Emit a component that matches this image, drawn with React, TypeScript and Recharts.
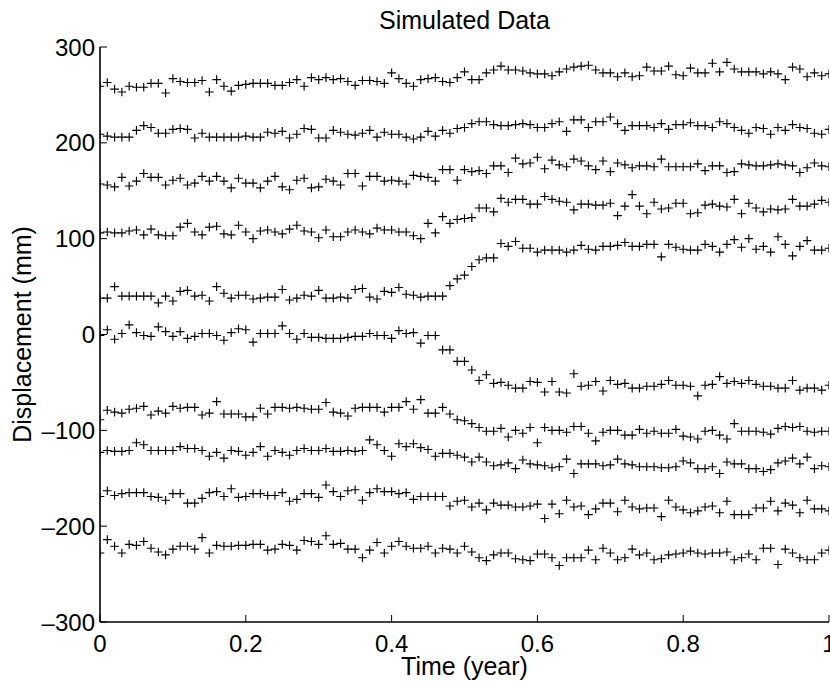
import React from 'react';
import { ScatterChart, Scatter, XAxis, YAxis, Label } from 'recharts';

const times = [0, 0.01, 0.02, 0.03, 0.04, 0.05, 0.06, 0.07, 0.08, 0.09, 0.1, 0.11, 0.12, 0.13, 0.14, 0.15, 0.16, 0.17, 0.18, 0.19, 0.2, 0.21, 0.22, 0.23, 0.24, 0.25, 0.26, 0.27, 0.28, 0.29, 0.3, 0.31, 0.32, 0.33, 0.34, 0.35, 0.36, 0.37, 0.38, 0.39, 0.4, 0.41, 0.42, 0.43, 0.44, 0.45, 0.46, 0.47, 0.48, 0.49, 0.5, 0.51, 0.52, 0.53, 0.54, 0.55, 0.56, 0.57, 0.58, 0.59, 0.6, 0.61, 0.62, 0.63, 0.64, 0.65, 0.66, 0.67, 0.68, 0.69, 0.7, 0.71, 0.72, 0.73, 0.74, 0.75, 0.76, 0.77, 0.78, 0.79, 0.8, 0.81, 0.82, 0.83, 0.84, 0.85, 0.86, 0.87, 0.88, 0.89, 0.9, 0.91, 0.92, 0.93, 0.94, 0.95, 0.96, 0.97, 0.98, 0.99, 1];

const s1 = [259, 263, 256, 253, 259, 258, 258, 262, 262, 252, 267, 264, 263, 263, 265, 253, 266, 259, 254, 260, 261, 262, 262, 262, 260, 260, 263, 266, 259, 268, 266, 268, 266,
  267, 264, 260, 265, 265, 264, 262, 273, 267, 262, 259, 266, 267, 268, 264, 263, 268, 274, 266, 266, 273, 276, 280, 276, 276, 275, 273, 272, 272, 270, 274, 277, 279,
  280, 281, 276, 273, 273, 269, 273, 269, 270, 279, 275, 275, 280, 271, 270, 278, 273, 273, 283, 274, 284, 277, 274, 274, 274, 272, 274, 272, 266, 279, 277, 269, 273, 270, 272];
const s2 = [209, 207, 206, 206, 206, 213, 218, 216, 210, 210, 214, 215, 214, 205, 210, 206, 206, 206, 206, 206, 207, 206, 206, 211, 210, 212, 205, 209, 215, 214, 205, 205, 213,
  211, 209, 208, 210, 213, 206, 211, 209, 209, 206, 204, 206, 212, 207, 213, 210, 215, 216, 220, 222, 222, 219, 218, 218, 219, 220, 219, 216, 216, 220, 222, 212, 224,
  224, 216, 222, 222, 227, 220, 213, 218, 218, 218, 216, 220, 214, 219, 219, 221, 218, 218, 216, 222, 220, 216, 213, 210, 216, 215, 209, 216, 213, 219, 216, 215, 210, 209, 214];
const s3 = [157, 156, 154, 164, 155, 160, 168, 164, 164, 156, 161, 163, 156, 158, 165, 160, 165, 160, 153, 163, 158, 158, 153, 160, 165, 154, 151, 161, 163, 153, 154, 162, 160,
  156, 168, 168, 155, 165, 165, 160, 161, 160, 157, 166, 165, 164, 160, 172, 172, 161, 172, 170, 171, 168, 176, 176, 169, 184, 178, 179, 185, 173, 182, 177, 175, 183,
  181, 176, 172, 181, 170, 179, 177, 174, 176, 176, 175, 183, 175, 175, 175, 175, 178, 171, 176, 176, 169, 170, 178, 177, 176, 176, 177, 178, 177, 176, 169, 174, 179, 176, 175];
const s4 = [106, 107, 106, 106, 108, 109, 104, 110, 104, 103, 103, 112, 116, 107, 104, 112, 113, 105, 104, 114, 107, 100, 108, 109, 107, 105, 110, 114, 108, 107, 101, 109, 102,
  102, 107, 109, 107, 105, 111, 109, 109, 107, 107, 103, 100, 116, 106, 123, 116, 120, 121, 122, 132, 132, 128, 142, 138, 141, 141, 136, 136, 144, 141, 139, 138, 130,
  136, 136, 135, 135, 137, 124, 134, 146, 134, 126, 138, 131, 132, 137, 137, 126, 127, 135, 136, 134, 133, 141, 126, 137, 132, 128, 131, 130, 131, 141, 134, 134, 136, 140, 138];
const s5 = [38, 38, 50, 40, 40, 40, 40, 40, 33, 40, 35, 45, 46, 40, 41, 35, 50, 43, 38, 41, 41, 37, 38, 39, 39, 47, 36, 38, 41, 40, 46, 38, 38,
  39, 38, 47, 48, 39, 37, 45, 44, 49, 42, 41, 39, 40, 40, 40, 51, 58, 62, 71, 78, 80, 80, 95, 92, 97, 90, 90, 86, 88, 88, 88, 86, 88,
  93, 89, 88, 92, 92, 93, 96, 92, 92, 94, 94, 81, 94, 91, 89, 88, 88, 94, 92, 86, 94, 99, 91, 100, 89, 92, 86, 102, 94, 82, 92, 98, 88, 88, 90];
const s6 = [-1, 5, -5, 1, 10, 2, -1, -2, 8, 3, -2, 3, -4, -2, 1, 1, -1, -6, 2, 6, 5, -8, 1, 1, 1, 9, 1, -5, 1, -3, -3, -4, -4,
  -4, -3, -2, -2, 1, -1, -1, -4, 4, 1, 2, -9, -1, -1, -16, -16, -28, -28, -37, -48, -42, -51, -50, -53, -56, -56, -49, -50, -60, -49, -60, -61, -41,
  -54, -53, -49, -59, -48, -52, -51, -56, -56, -54, -54, -52, -48, -53, -53, -54, -64, -53, -52, -44, -51, -49, -51, -48, -52, -54, -54, -56, -56, -48, -58, -56, -56, -58, -53];
const s7 = [-89, -79, -81, -82, -78, -77, -75, -84, -80, -82, -75, -77, -76, -76, -84, -82, -70, -83, -83, -83, -86, -86, -77, -83, -76, -76, -77, -76, -77, -78, -78, -71, -81,
  -82, -85, -77, -76, -76, -76, -81, -76, -76, -70, -78, -68, -82, -82, -76, -83, -89, -90, -93, -97, -101, -101, -98, -107, -100, -103, -97, -113, -97, -100, -100, -102, -96,
  -96, -103, -111, -102, -100, -100, -105, -105, -99, -103, -101, -103, -103, -99, -106, -107, -109, -101, -100, -105, -109, -93, -101, -101, -101, -102, -104, -98, -96, -97, -96, -101, -102, -101, -101];
const s8 = [-123, -121, -122, -122, -121, -113, -115, -121, -121, -121, -121, -117, -119, -119, -121, -127, -123, -129, -121, -122, -126, -123, -117, -127, -121, -123, -126, -121, -119, -121, -121, -119, -122,
  -122, -121, -122, -121, -110, -115, -121, -127, -114, -117, -114, -118, -120, -127, -124, -124, -126, -128, -133, -128, -133, -137, -136, -134, -140, -131, -135, -136, -137, -139, -138, -130, -145,
  -135, -135, -135, -137, -136, -130, -135, -136, -138, -138, -138, -139, -139, -138, -132, -134, -140, -140, -138, -145, -133, -135, -135, -140, -140, -143, -141, -134, -132, -129, -135, -128, -140, -137, -138];
const s9 = [-169, -163, -168, -166, -165, -165, -165, -169, -170, -173, -166, -166, -176, -176, -171, -165, -164, -169, -161, -170, -169, -166, -166, -168, -168, -165, -174, -172, -166, -166, -170, -157, -164,
  -169, -163, -162, -173, -165, -161, -164, -164, -166, -165, -172, -169, -169, -169, -169, -179, -174, -173, -180, -176, -183, -176, -178, -178, -180, -180, -179, -177, -192, -177, -187, -173, -180,
  -179, -188, -182, -176, -176, -185, -173, -180, -182, -181, -181, -190, -173, -180, -183, -186, -184, -180, -179, -186, -174, -188, -188, -188, -181, -181, -174, -184, -176, -178, -186, -173, -182, -182, -184];
const s10 = [-228, -214, -221, -228, -219, -220, -216, -223, -227, -230, -224, -221, -221, -224, -212, -228, -220, -221, -221, -220, -220, -219, -219, -225, -224, -219, -220, -225, -215, -216, -219, -210, -219,
  -218, -224, -224, -233, -225, -217, -228, -221, -216, -221, -223, -223, -221, -228, -223, -224, -228, -221, -227, -233, -236, -230, -228, -228, -234, -235, -236, -229, -229, -233, -241, -233, -233,
  -233, -225, -235, -223, -228, -235, -233, -224, -230, -228, -235, -234, -230, -229, -228, -226, -228, -229, -228, -228, -227, -235, -233, -229, -235, -223, -223, -240, -224, -228, -233, -235, -235, -228, -225];

const seriesList = [s1, s2, s3, s4, s5, s6, s7, s8, s9, s10];
const xTicks = [0, 0.2, 0.4, 0.6, 0.8, 1];
const yTicks = [-300, -200, -100, 0, 100, 200, 300];
const xTickLabels = ['0', '0.2', '0.4', '0.6', '0.8', '1'];
const yTickLabels = ['\u2013300', '\u2013200', '\u2013100', '0', '100', '200', '300'];

const FONT = '"Liberation Sans", Arial, Helvetica, sans-serif';
const TICK_FS = 24;
const LABEL_FS = 25;
const TICK_LEN = 7;

const Plus = (props: any) => {
  const { cx, cy } = props;
  if (cx == null || cy == null) return null;
  const h = 4.3;
  return (
    <path
      d={`M${cx - h},${cy}H${cx + h}M${cx},${cy - h}V${cy + h}`}
      stroke="#000"
      strokeWidth={1.15}
      fill="none"
    />
  );
};

const BottomTick = (props: any) => {
  const { x, y, payload } = props;
  const idx = xTicks.indexOf(payload.value);
  return (
    <g>
      <line x1={x} y1={y} x2={x} y2={y - TICK_LEN} stroke="#000" strokeWidth={1} />
      <text x={x} y={y + 30} textAnchor="middle" fontSize={TICK_FS} fontFamily={FONT} fill="#000">
        {idx >= 0 ? xTickLabels[idx] : String(payload.value)}
      </text>
    </g>
  );
};

const TopTick = (props: any) => {
  const { x, y } = props;
  return <line x1={x} y1={y} x2={x} y2={y + TICK_LEN} stroke="#000" strokeWidth={1} />;
};

const LeftTick = (props: any) => {
  const { x, y, payload } = props;
  const idx = yTicks.indexOf(payload.value);
  return (
    <g>
      <line x1={x} y1={y} x2={x + TICK_LEN} y2={y} stroke="#000" strokeWidth={1} />
      <text x={x - 5} y={y} dy="0.36em" textAnchor="end" fontSize={TICK_FS} fontFamily={FONT} fill="#000">
        {idx >= 0 ? yTickLabels[idx] : String(payload.value)}
      </text>
    </g>
  );
};

const RightTick = (props: any) => {
  const { x, y } = props;
  return <line x1={x} y1={y} x2={x - TICK_LEN} y2={y} stroke="#000" strokeWidth={1} />;
};

const YLabelContent = (props: any) => {
  const vb = props.viewBox || {};
  const cx = (vb.x || 0) + 31;
  const cy = (vb.y || 0) + (vb.height || 0) / 2;
  return (
    <text
      x={cx}
      y={cy}
      transform={`rotate(-90, ${cx}, ${cy})`}
      textAnchor="middle"
      fontSize={LABEL_FS}
      fontFamily={FONT}
      fill="#000"
    >
      Displacement (mm)
    </text>
  );
};

const XLabelContent = (props: any) => {
  const vb = props.viewBox || {};
  const cx = (vb.x || 0) + (vb.width || 0) / 2;
  const cy = (vb.y || 0) + 53;
  return (
    <text x={cx} y={cy} textAnchor="middle" fontSize={LABEL_FS} fontFamily={FONT} fill="#000">
      Time (year)
    </text>
  );
};

export default function App() {
  const datasets = seriesList.map((s) =>
    times.map((t, i) => ({ x: t, y: s[i] })).filter((d) => d.y !== undefined)
  );
  const axisLine = { stroke: '#000', strokeWidth: 1.6 };
  return (
    <div style={{ position: 'absolute', left: 0, top: 0, width: 830, height: 685, background: '#fff' }}>
      <svg width={830} height={40} style={{ position: 'absolute', left: 0, top: 0 }}>
        <text x={464.5} y={29} textAnchor="middle" fontSize={LABEL_FS} fontFamily={FONT} fill="#000">
          Simulated Data
        </text>
      </svg>
      <div style={{ position: 'absolute', left: 0, top: 0 }}>
        <ScatterChart width={830} height={685} margin={{ top: 47, right: 1, bottom: 0, left: 0 }}>
          <XAxis
            xAxisId="b"
            type="number"
            dataKey="x"
            domain={[0, 1]}
            ticks={xTicks}
            interval={0}
            orientation="bottom"
            height={63}
            tickSize={0}
            tickMargin={0}
            tickLine={false}
            axisLine={axisLine}
            tick={<BottomTick />}
            allowDataOverflow
          >
            <Label content={<XLabelContent />} />
          </XAxis>
          <XAxis
            xAxisId="t"
            type="number"
            domain={[0, 1]}
            ticks={xTicks}
            interval={0}
            orientation="top"
            height={0}
            tickSize={0}
            tickMargin={0}
            tickLine={false}
            axisLine={axisLine}
            tick={<TopTick />}
            allowDataOverflow
          />
          <YAxis
            yAxisId="l"
            type="number"
            dataKey="y"
            domain={[-300, 300]}
            ticks={yTicks}
            interval={0}
            orientation="left"
            width={100}
            tickSize={0}
            tickMargin={0}
            tickLine={false}
            axisLine={axisLine}
            tick={<LeftTick />}
            allowDataOverflow
          >
            <Label content={<YLabelContent />} />
          </YAxis>
          <YAxis
            yAxisId="r"
            type="number"
            domain={[-300, 300]}
            ticks={yTicks}
            interval={0}
            orientation="right"
            width={0}
            tickSize={0}
            tickMargin={0}
            tickLine={false}
            axisLine={axisLine}
            tick={<RightTick />}
            allowDataOverflow
          />
          {datasets.map((d, k) => (
            <Scatter
              key={k}
              xAxisId="b"
              yAxisId="l"
              data={d}
              shape={<Plus />}
              isAnimationActive={false}
            />
          ))}
        </ScatterChart>
      </div>
    </div>
  );
}
